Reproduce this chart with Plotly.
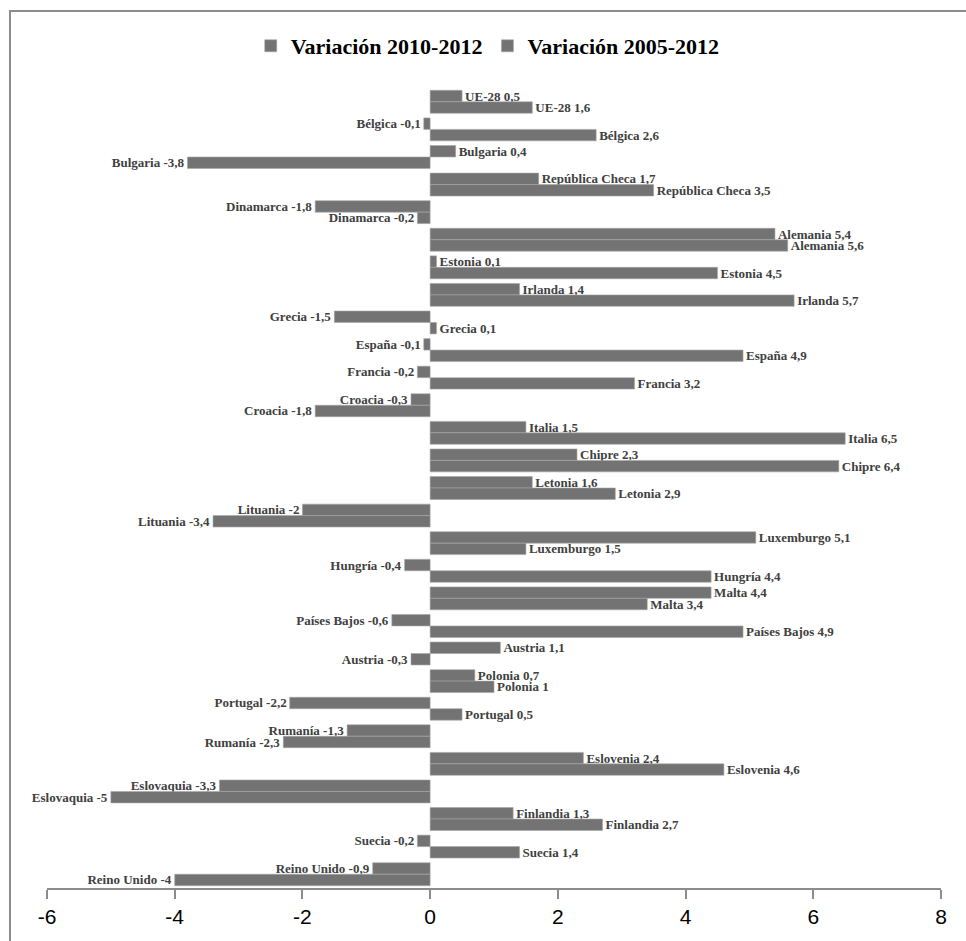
import plotly.graph_objects as go

paises = ["UE-28", "Bélgica", "Bulgaria", "República Checa", "Dinamarca", "Alemania",
          "Estonia", "Irlanda", "Grecia", "España", "Francia", "Croacia", "Italia",
          "Chipre", "Letonia", "Lituania", "Luxemburgo", "Hungría", "Malta",
          "Países Bajos", "Austria", "Polonia", "Portugal", "Rumanía", "Eslovenia",
          "Eslovaquia", "Finlandia", "Suecia", "Reino Unido"]

var_2010_2012 = [0.5, -0.1, 0.4, 1.7, -1.8, 5.4, 0.1, 1.4, -1.5, -0.1, -0.2, -0.3, 1.5,
                 2.3, 1.6, -2, 5.1, -0.4, 4.4, -0.6, 1.1, 0.7, -2.2, -1.3, 2.4,
                 -3.3, 1.3, -0.2, -0.9]

var_2005_2012 = [1.6, 2.6, -3.8, 3.5, -0.2, 5.6, 4.5, 5.7, 0.1, 4.9, 3.2, -1.8, 6.5,
                 6.4, 2.9, -3.4, 1.5, 4.4, 3.4, 4.9, -0.3, 1, 0.5, -2.3, 4.6,
                 -5, 2.7, 1.4, -4]

x_ticks = [-6, -4, -2, 0, 2, 4, 6, 8]


def fmt(v):
    s = f"{v:.1f}".replace(".", ",")
    return s[:-2] if s.endswith(",0") else s


def etiquetas(vals):
    return [f"{p} {fmt(v)}" for p, v in zip(paises, vals)]


BAR = "#737373"
EDGE = "#a6a6a6"
FRAME = "#8c8c8c"
label_font = dict(family="Liberation Serif", size=13, color="#404040")

fig = go.Figure()
for nombre, vals in [("Variación 2010-2012", var_2010_2012),
                     ("Variación 2005-2012", var_2005_2012)]:
    fig.add_trace(go.Bar(
        name=f"<b>{nombre}</b>", y=paises, x=vals, orientation="h",
        marker=dict(color=BAR, line=dict(color=EDGE, width=0.6)),
        text=etiquetas(vals), textposition="outside",
        textfont=label_font, cliponaxis=False, constraintext="none",
        texttemplate="<b>%{text}</b>",
    ))

# outer chart frame (left and top edges)
frame = [
    dict(type="line", xref="paper", yref="paper", x0=-0.0414, x1=-0.0414, y0=-0.2, y1=1.0975),
    dict(type="line", xref="paper", yref="paper", x0=-0.0414, x1=1.2, y0=1.0962, y1=1.0962),
]
for s in frame:
    s["line"] = dict(color=FRAME, width=2)
    s["layer"] = "below"

fig.update_layout(
    width=966, height=941,
    margin=dict(l=47, r=25, t=88, b=53, autoexpand=False),
    paper_bgcolor="white", plot_bgcolor="white",
    barmode="group", bargap=0.17, bargroupgap=0,
    legend=dict(orientation="h", x=0.493, xanchor="center", y=1.0525, yanchor="middle",
                bgcolor="rgba(0,0,0,0)",
                font=dict(family="Liberation Serif", size=22, color="black"),
                itemwidth=30, traceorder="normal"),
    xaxis=dict(range=[-6, 8], tickvals=x_ticks, ticktext=[str(t) for t in x_ticks],
               showgrid=False, zeroline=False, showline=True, linecolor=FRAME,
               linewidth=1.5, ticks="outside", ticklen=9, tickcolor=FRAME,
               tickwidth=1.5,
               tickfont=dict(family="Liberation Sans Narrow, Liberation Sans", size=21,
                             color="black"),
               fixedrange=True),
    yaxis=dict(autorange="reversed", showticklabels=False, showgrid=False,
               zeroline=False, showline=False, ticks=""),
    shapes=frame,
)

fig.write_html("out.html")
